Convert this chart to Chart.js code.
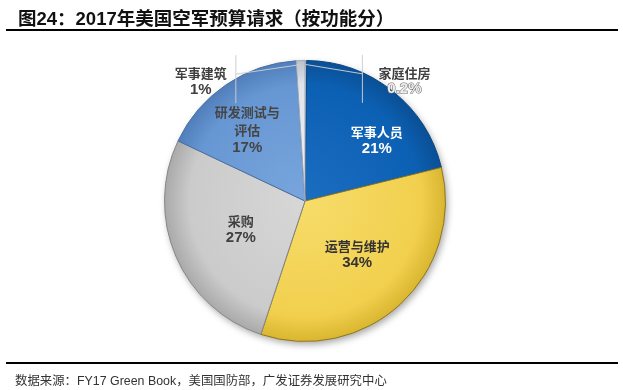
<!DOCTYPE html>
<html lang="zh">
<head>
<meta charset="utf-8">
<script src="https://cdn.jsdelivr.net/npm/chart.js"></script>
<style>
  html, body { margin: 0; padding: 0; background: #fff; }
  #wrap { position: relative; width: 623px; height: 390px; overflow: hidden; }
  #box { position: absolute; left: 0; top: 0; width: 623px; height: 390px; }
  #title { position: absolute; left: 18px; top: 4px; font: bold 18.5px "Liberation Sans", "Noto Sans CJK SC", sans-serif; color: #111; white-space: nowrap; }
  #topline { position: absolute; left: 6px; width: 612px; top: 29px; border-top: 2px solid #000; }
  #botline { position: absolute; left: 6px; width: 612px; top: 362px; border-top: 2px solid #000; }
  #src { position: absolute; left: 15px; top: 371px; font: 12.4px "Liberation Sans", "Noto Sans CJK SC", sans-serif; color: #333; white-space: nowrap; }
</style>
</head>
<body>
<div id="wrap">
  <div id="box"><canvas id="pie"></canvas></div>
  <div id="title">图24：2017年美国空军预算请求（按功能分）</div>
  <div id="topline"></div>
  <div id="botline"></div>
  <div id="src">数据来源：FY17 Green Book，美国国防部，广发证券发展研究中心</div>
</div>
<script>
// data, clockwise from 12 o'clock
const categories = ['家庭住房', '军事人员', '运营与维护', '采购', '研发测试与\n评估', '军事建筑'];
const shares = [0.2, 21, 34, 27, 17, 1];
const shareLabels = ['0.2%', '21%', '34%', '27%', '17%', '1%'];

// look
const shades = [
  ['#eef2f8', '#d9e0ec', '#b4bfd0'],
  ['#1b6dc0', '#0c60b3', '#0a4f95'],
  ['#f6dc6a', '#f2d04e', '#d9b52f'],
  ['#d7d7d7', '#cbcbcb', '#a9a9a9'],
  ['#78a5dc', '#6797d3', '#4f7eba'],
  ['#f0f3f7', '#dfe4ec', '#b9c1cd']
];
const edges = ['#9aa4b4', '#0a4682', '#8a7420', '#858585', '#4a70a4', '#a0a8b4'];
const textColors = ['#404040', '#ffffff', '#333333', '#404040', '#454545', '#404040'];
// label anchor: [degrees clockwise from top, fraction of radius]
const labelPos = [[39.6, 1.11], [49.7, 0.67], [135.5, 0.53], [245.9, 0.5], [320.8, 0.65], [319, 1.13]];

function sliceFill(c) {
  const area = c.chart.chartArea;
  const s = shades[c.dataIndex];
  if (!area) return s[1];
  const cx = (area.left + area.right) / 2, cy = (area.top + area.bottom) / 2;
  const r = Math.min(area.width, area.height) / 2;
  const g = c.chart.ctx.createRadialGradient(cx, cy, 0, cx, cy, r);
  g.addColorStop(0, s[0]);
  g.addColorStop(0.82, s[1]);
  g.addColorStop(1, s[2]);
  return g;
}

const shadowPlugin = {
  id: 'pieShadow',
  beforeDatasetsDraw(chart) {
    const arc = chart.getDatasetMeta(0).data[0];
    if (!arc) return;
    const ctx = chart.ctx;
    ctx.save();
    ctx.beginPath();
    ctx.arc(arc.x, arc.y, arc.outerRadius, 0, Math.PI * 2);
    ctx.fillStyle = '#fff';
    ctx.shadowColor = 'rgba(0,0,0,0.35)';
    ctx.shadowBlur = 7;
    ctx.shadowOffsetX = 2;
    ctx.shadowOffsetY = 3;
    ctx.fill();
    ctx.restore();
  }
};

const labelPlugin = {
  id: 'sliceLabels',
  afterDatasetsDraw(chart) {
    const ctx = chart.ctx;
    chart.getDatasetMeta(0).data.forEach((arc, i) => {
      const p = labelPos[i];
      const a = (p[0] - 90) * Math.PI / 180;
      const x = arc.x + Math.cos(a) * arc.outerRadius * p[1];
      const y = arc.y + Math.sin(a) * arc.outerRadius * p[1];

      // leader lines for the two thin slices
      if (p[1] > 1) {
        const mid = (arc.startAngle + arc.endAngle) / 2;
        const ex = arc.x + Math.cos(mid) * (arc.outerRadius - 2);
        const ey = arc.y + Math.sin(mid) * (arc.outerRadius - 2);
        const lx = x > arc.x ? x - 42 : x + 35;
        ctx.save();
        ctx.strokeStyle = 'rgba(205,205,205,0.95)';
        ctx.lineWidth = 1;
        ctx.beginPath();
        ctx.moveTo(ex, ey + 2);
        ctx.lineTo(lx, y - 7);
        ctx.moveTo(lx, y - 26);
        ctx.lineTo(lx, y + 22);
        ctx.stroke();
        ctx.restore();
      }

      const lines = categories[i].split('\n');
      const n = lines.length + 1;
      const step = n > 2 ? 18 : 16.5;
      let ty = y - (n - 1) * step / 2;
      ctx.save();
      ctx.textAlign = 'center';
      ctx.textBaseline = 'middle';
      ctx.fillStyle = textColors[i];
      ctx.font = 'bold 13px "Noto Sans CJK SC", sans-serif';
      lines.forEach(t => { ctx.fillText(t, x, ty); ty += step; });
      ctx.font = 'bold 15px "Liberation Sans", Arial, sans-serif';
      if (i === 0) {
        ctx.fillStyle = '#eeeeee';
        ctx.strokeStyle = '#666';
        ctx.lineWidth = 1;
        ctx.strokeText(shareLabels[i], x, ty);
      }
      ctx.fillText(shareLabels[i], x, ty);
      ctx.restore();
    });
  }
};

new Chart(document.getElementById('pie'), {
  type: 'pie',
  data: {
    labels: categories,
    datasets: [{
      data: shares,
      backgroundColor: sliceFill,
      borderColor: edges,
      borderWidth: 1
    }]
  },
  options: {
    responsive: true,
    maintainAspectRatio: false,
    animation: false,
    layout: { padding: { top: 60, bottom: 48, left: 20, right: 33 } },
    plugins: { legend: { display: false }, tooltip: { enabled: false } }
  },
  plugins: [shadowPlugin, labelPlugin]
});
</script>
</body>
</html>
